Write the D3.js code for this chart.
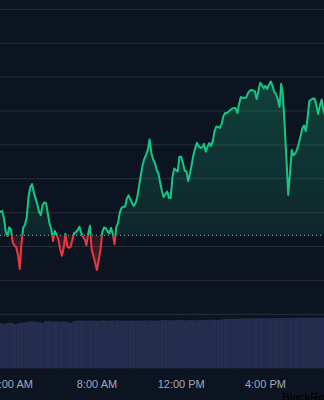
<!DOCTYPE html>
<html>
<head>
<meta charset="utf-8">
<script src="https://cdn.jsdelivr.net/npm/d3@7"></script>
<style>
  html, body { margin: 0; padding: 0; background: #0d1421; }
  svg { display: block; }
</style>
</head>
<body>
<svg width="324" height="400"></svg>
<script>
// intraday price, one point every 5 minutes starting 3:20 AM
var startTime = new Date(2024, 0, 2, 3, 20);
var stepMin = 5;
var prices = [
  98.99, 99.03, 99.05, 98.83, 98.44, 98.31, 98.57, 98.49, 98.11, 98.03,
  97.98, 97.75, 97.34, 98.10, 98.56, 98.64, 98.87, 99.47, 99.75, 99.84,
  99.60, 99.42, 99.25, 99.02, 98.93, 99.23, 99.30, 99.28, 98.97, 98.67,
  98.51, 98.16, 98.46, 98.35, 98.20, 97.93, 97.73, 97.94, 98.37, 98.01,
  97.96, 97.99, 98.19, 98.40, 98.42, 98.49, 98.58, 98.41, 98.28, 98.22,
  98.04, 98.38, 98.61, 97.90, 97.72, 97.51, 97.31, 97.61, 97.90, 98.42,
  98.56, 98.54, 98.45, 98.39, 98.55, 98.37, 98.07, 98.58, 98.69, 99.00,
  99.14, 99.17, 99.17, 99.41, 99.51, 99.40, 99.28, 99.20, 99.28, 99.47,
  99.78, 100.11, 100.40, 100.59, 100.71, 100.85, 101.16, 100.77, 100.57, 100.48,
  100.26, 100.16, 99.89, 99.64, 99.46, 99.55, 99.62, 99.43, 99.43, 100.04,
  100.30, 100.26, 100.21, 100.65, 100.65, 100.46, 100.24, 100.21, 99.93, 100.16,
  100.42, 100.71, 100.91, 101.06, 100.96, 100.91, 100.93, 101.03, 100.80, 100.94,
  101.05, 100.97, 101.11, 101.40, 101.54, 101.53, 101.50, 101.61, 101.84, 101.94,
  101.93, 101.98, 102.03, 102.07, 102.09, 102.08, 101.94, 102.21, 102.41, 102.38,
  102.39, 102.39, 102.52, 102.59, 102.62, 102.60, 102.58, 102.35, 102.59, 102.83,
  102.76, 102.67, 102.74, 102.65, 102.77, 102.87, 102.75, 102.56, 102.51, 102.35,
  102.12, 102.80, 102.42, 101.53, 100.55, 99.52, 100.17, 100.85, 100.69, 100.75,
  100.86, 101.04, 101.25, 101.48, 101.57, 101.40, 101.78, 102.29, 102.33, 102.37,
  102.36, 102.18, 101.91, 102.15, 102.34, 102.03, 101.85
];
var prevClose = 98.33;
var gridValues = [96, 97, 98, 99, 100, 101, 102, 103, 104, 105];

// volume (thousands), one bar every 10 minutes
var volStepMin = 10;
var volumes = [
  45.0, 44.6, 45.1, 45.4, 44.3, 45.0, 45.6, 46.0,
  46.6, 47.0, 46.5, 46.2, 45.4,
  47.0, 47.2, 46.6, 47.1, 46.7, 46.9, 46.2, 45.6, 47.2,
  47.6, 47.8, 47.5, 47.7, 47.9, 47.6, 47.4, 47.8, 47.7, 47.5, 47.9, 48.0, 47.6,
  47.8, 47.7, 47.5, 47.9, 47.8, 47.6, 48.0, 47.7, 47.9, 47.8, 47.6, 48.1,
  48.2, 47.9, 48.3, 48.0, 48.4, 48.1, 47.9, 48.3, 48.2, 48.0, 48.5, 48.3, 48.1,
  48.6, 48.4, 48.2, 48.7, 49.2,
  49.6, 49.4, 49.8, 49.5, 49.9, 49.7, 50.0, 49.8, 50.1, 49.9, 50.2, 50.0, 49.8,
  50.3, 50.1, 50.4, 50.2, 50.0, 50.5, 50.3, 50.6, 50.4, 50.2, 50.5, 50.6, 50.4,
  50.7, 50.5, 50.6
];
var tickHours = [4, 8, 12, 16];
var watermark = "BlackRock";

var green = "#16c784", red = "#ea3943";

var svg = d3.select("svg");

var data = prices.map(function(p, i) {
  return { t: d3.timeMinute.offset(startTime, i * stepMin), v: p };
});
var endTime = data[data.length - 1].t;

var x = d3.scaleTime().domain([startTime, endTime]).range([-1.3, 325.1]);
var y = d3.scaleLinear().domain([96, 105]).range([314.3, 9.3]);
var yv = d3.scaleLinear().domain([0, 60]).range([368.3, 308.3]);

var defs = svg.append("defs");
var y0 = y(prevClose);

defs.append("clipPath").attr("id", "above")
  .append("rect").attr("x", -10).attr("y", -10).attr("width", 350).attr("height", y0 + 10);
defs.append("clipPath").attr("id", "below")
  .append("rect").attr("x", -10).attr("y", y0).attr("width", 350).attr("height", 400);

var gg = defs.append("linearGradient").attr("id", "gfill")
  .attr("gradientUnits", "userSpaceOnUse").attr("x1", 0).attr("x2", 0)
  .attr("y1", y(103)).attr("y2", y0);
gg.append("stop").attr("offset", 0).attr("stop-color", green).attr("stop-opacity", 0.26);
gg.append("stop").attr("offset", 1).attr("stop-color", green).attr("stop-opacity", 0.1);

var rg = defs.append("linearGradient").attr("id", "rfill")
  .attr("gradientUnits", "userSpaceOnUse").attr("x1", 0).attr("x2", 0)
  .attr("y1", y0).attr("y2", y(97.3));
rg.append("stop").attr("offset", 0).attr("stop-color", red).attr("stop-opacity", 0.12);
rg.append("stop").attr("offset", 1).attr("stop-color", red).attr("stop-opacity", 0.3);

// grid
svg.append("g").selectAll("line").data(gridValues).enter().append("line")
  .attr("x1", 0).attr("x2", 324)
  .attr("y1", function(d) { return y(d); }).attr("y2", function(d) { return y(d); })
  .attr("stroke", "#2a2e39").attr("stroke-width", 1);

// volume
var volData = volumes.map(function(v, i) {
  return { t: d3.timeMinute.offset(startTime, i * volStepMin), v: v };
});
svg.append("g").selectAll("rect").data(volData).enter().append("rect")
  .attr("x", function(d) { return x(d.t); })
  .attr("width", function(d) { return x(d3.timeMinute.offset(d.t, volStepMin)) - x(d.t) + 0.2; })
  .attr("y", function(d) { return yv(d.v); })
  .attr("height", function(d) { return yv(0) - yv(d.v); })
  .attr("fill", "#262e50");

// area fills
var area = d3.area().x(function(d) { return x(d.t); })
  .y0(y0).y1(function(d) { return y(d.v); });
svg.append("path").datum(data).attr("d", area)
  .attr("fill", "url(#gfill)").attr("clip-path", "url(#above)");
svg.append("path").datum(data).attr("d", area)
  .attr("fill", "url(#rfill)").attr("clip-path", "url(#below)");

// previous close
svg.append("line").attr("x1", 0).attr("x2", 324).attr("y1", y0).attr("y2", y0)
  .attr("stroke", "#a7adbb").attr("stroke-width", 1).attr("stroke-dasharray", "1 3");

// price line
var line = d3.line().x(function(d) { return x(d.t); }).y(function(d) { return y(d.v); });
svg.append("path").datum(data).attr("d", line)
  .attr("fill", "none").attr("stroke", green).attr("stroke-width", 2)
  .attr("stroke-linejoin", "round").attr("clip-path", "url(#above)");
svg.append("path").datum(data).attr("d", line)
  .attr("fill", "none").attr("stroke", red).attr("stroke-width", 2)
  .attr("stroke-linejoin", "round").attr("clip-path", "url(#below)");

// x axis labels
var fmt = d3.timeFormat("%-I:%M %p");
svg.append("g").selectAll("text").data(tickHours).enter().append("text")
  .attr("x", function(h) { return x(new Date(2024, 0, 2, h, 0)); })
  .attr("y", 388)
  .attr("text-anchor", "middle")
  .attr("font-family", "Liberation Sans, Arial, sans-serif")
  .attr("font-size", 11)
  .attr("fill", "#a1a7bb")
  .text(function(h) { return fmt(new Date(2024, 0, 2, h, 0)); });

svg.append("text").attr("x", 282).attr("y", 401)
  .attr("font-family", "Liberation Sans, Arial, sans-serif")
  .attr("font-size", 11.5).attr("fill", "#000")
  .text(watermark);
</script>
</body>
</html>
